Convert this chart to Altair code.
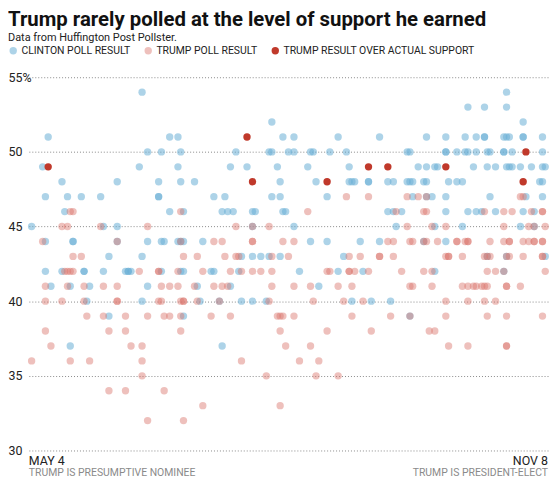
import altair as alt
import pandas as pd

FONT = "Roboto"

# ---- data (days since May 4, 2016; poll share %) ----
clinton_day = [
    41, 173,
    159, 165, 173,
    88, 179,
    7, 51, 54, 92, 96, 112, 127, 144, 151, 158, 162, 165, 165, 172, 173, 174, 179, 179, 186,
    43, 48, 55, 75, 87, 88, 94, 96, 102, 103, 109, 115, 137, 138, 151, 151, 155, 158, 159, 162, 166, 167, 172, 172, 175, 186,
    5, 40, 54, 73, 79, 90, 101, 116, 141, 144, 147, 148, 161, 166, 169, 173, 174, 175, 178, 182, 186, 187,
    12, 32, 47, 55, 60, 91, 104, 116, 117, 118, 123, 123, 130, 132, 137, 138, 139, 143, 144, 152, 155, 157, 185, 186,
    6, 14, 19, 26, 47, 47, 67, 71, 88, 91, 108, 139, 144, 146, 151, 167, 180, 186,
    13, 51, 56, 70, 72, 74, 81, 82, 92, 93, 130, 132, 135, 151, 159, 162, 164, 169, 179, 183,
    1, 27, 32, 81, 96, 133, 147, 157, 178, 183,
    6, 16, 16, 32, 43, 48, 49, 54, 55, 56, 63, 102, 108, 120, 127, 143, 151,
    29, 41, 77, 81, 84, 87, 91, 114, 166, 173, 187,
    6, 12, 20, 20, 27, 35, 36, 36, 37, 48, 55, 56, 66, 67, 76, 98, 112, 121, 147, 172,
    8, 15, 22, 43, 61, 73, 105,
    21, 41, 62, 69, 77, 81, 86, 117, 124, 131,
    29, 56, 138,
    15, 70,
]
clinton_pct = (
    [54] * 2 + [53] * 3 + [52] * 2 + [51] * 19 + [50] * 26 + [49] * 22 + [48] * 24
    + [47] * 18 + [46] * 20 + [45] * 10 + [44] * 17 + [43] * 11 + [42] * 20
    + [41] * 7 + [40] * 10 + [39] * 3 + [37] * 2
)

trump_day = [
    115, 123, 137, 141, 144, 178, 179,
    15, 16, 55, 101, 133, 143, 144, 165, 172, 175, 182, 186, 186,
    12, 14, 26, 43, 75, 81, 87, 137, 146, 151, 172, 181, 183, 187,
    5, 32, 55, 67, 70, 81, 81, 92, 96, 130, 132, 138, 139, 143, 144, 148, 155, 155, 158, 159, 159, 167, 172, 174, 174, 179, 181, 183, 183, 186, 186,
    16, 19, 56, 61, 71, 75, 76, 88, 94, 116, 120, 127, 127, 132, 151, 152, 152, 157, 165, 166, 167, 173, 174, 179, 186, 186,
    13, 14, 15, 16, 40, 47, 47, 54, 63, 73, 77, 81, 84, 88, 108, 109, 116, 116, 118, 123, 135, 143, 146, 166, 169, 172, 187,
    6, 14, 20, 27, 32, 48, 51, 54, 60, 67, 70, 72, 88, 96, 102, 112, 117, 138, 139, 146, 157, 159, 161, 162, 164, 165, 166, 173, 173, 178,
    6, 12, 20, 32, 32, 47, 48, 55, 56, 56, 61, 69, 87, 103, 114, 121, 151, 159, 165, 169,
    21, 27, 35, 43, 49, 51, 55, 66, 73, 90, 91, 92, 96, 117, 131, 138, 151, 166, 173, 186,
    6, 29, 35, 55, 91, 108, 124, 145, 147,
    8, 37, 41, 93, 102, 152, 159, 173, 173,
    1, 15, 22, 41, 77, 98, 105,
    41, 86, 104, 112,
    29, 35, 49,
    63, 91,
    43, 56,
]
trump_pct = (
    [47] * 7 + [46] * 13 + [45] * 14 + [44] * 31 + [43] * 26 + [42] * 27
    + [41] * 30 + [40] * 20 + [39] * 20 + [38] * 9 + [37] * 9 + [36] * 7
    + [35] * 4 + [34] * 3 + [33] * 2 + [32] * 2
)

over_day = [7, 79, 81, 108, 123, 130, 151, 179, 180]
over_pct = [49, 51, 48, 48, 49, 49, 49, 48, 50]

series_names = ["CLINTON POLL RESULT", "TRUMP POLL RESULT", "TRUMP RESULT OVER ACTUAL SUPPORT"]
series_colors = ["rgba(106,174,214,0.55)", "rgba(217,115,107,0.45)", "rgb(192,57,43)"]

y_ticks = [30, 35, 40, 45, 50, 55]

start = pd.Timestamp("2016-05-04")
end = pd.Timestamp("2016-11-08")

frames = []
for i, (name, days, pcts) in enumerate(zip(series_names,
                                           [clinton_day, trump_day, over_day],
                                           [clinton_pct, trump_pct, over_pct])):
    frames.append(pd.DataFrame({"day": days, "pct": pcts, "series": name, "idx": i}))
df = pd.concat(frames, ignore_index=True)
df["date"] = (start + pd.to_timedelta(df["day"], unit="D")).dt.strftime("%Y-%m-%d")

ann = pd.DataFrame({
    "date": [start.strftime("%Y-%m-%d"), end.strftime("%Y-%m-%d")],
    "head": ["MAY 4", "NOV 8"],
    "sub": ["TRUMP IS PRESUMPTIVE NOMINEE", "TRUMP IS PRESIDENT-ELECT"],
    "side": ["left", "right"],
})

xscale = alt.Scale(domain=[start.strftime("%Y-%m-%d"), end.strftime("%Y-%m-%d")])
yscale = alt.Scale(domain=[30, 55], nice=False, zero=False)

legend = alt.Legend(
    orient="none", legendX=-21, legendY=-32, direction="horizontal", title=None,
    labelFont=FONT, labelFontSize=10.5, labelColor="#222", symbolType="circle",
    symbolSize=55, symbolStrokeWidth=0, columnPadding=12, labelOffset=3,
    padding=0, labelLimit=0,
)

points = alt.Chart(df).mark_circle(size=55, opacity=1).encode(
    x=alt.X("date:T", scale=xscale, axis=None),
    y=alt.Y(
        "pct:Q", scale=yscale,
        axis=alt.Axis(
            values=y_ticks, title=None, grid=True, gridDash=[1, 2], gridColor="#8a8a8a",
            gridWidth=1, domain=False, ticks=False, labelAlign="left", labelPadding=21,
            labelBaseline="middle", labelFont=FONT, labelFontSize=12.5, labelColor="#222",
            labelExpr="datum.value == 55 ? '55%' : datum.label",
        ),
    ),
    color=alt.Color("series:N", scale=alt.Scale(domain=series_names, range=series_colors),
                    legend=legend),
    order=alt.Order("idx:Q"),
)

base_ann = alt.Chart(ann)
layers = [points]
for side in ["left", "right"]:
    layers.append(
        base_ann.transform_filter(alt.datum.side == side).mark_text(
            align=side, baseline="alphabetic", dy=14.5, font=FONT, fontSize=12.5, color="#222"
        ).encode(x=alt.X("date:T", scale=xscale), y=alt.datum(30), text="head:N")
    )
    layers.append(
        base_ann.transform_filter(alt.datum.side == side).mark_text(
            align=side, baseline="alphabetic", dy=25.5, font=FONT, fontSize=10.5, color="#8a8a8a"
        ).encode(x=alt.X("date:T", scale=xscale), y=alt.datum(30), text="sub:N")
    )

chart = alt.layer(*layers).properties(
    width=523, height=376,
    padding=0,
    title=alt.Title(
        "Trump rarely polled at the level of support he earned",
        subtitle="Data from Huffington Post Pollster.",
        anchor="start", frame="bounds", font=FONT, fontSize=20.5, fontWeight="bold",
        color="#111", subtitleFont=FONT, subtitleFontSize=11, subtitleColor="#222",
        subtitlePadding=1, offset=3,
    ),
).configure_view(stroke=None)

chart.save("out.html", embed_options={"renderer": "svg", "actions": False})
